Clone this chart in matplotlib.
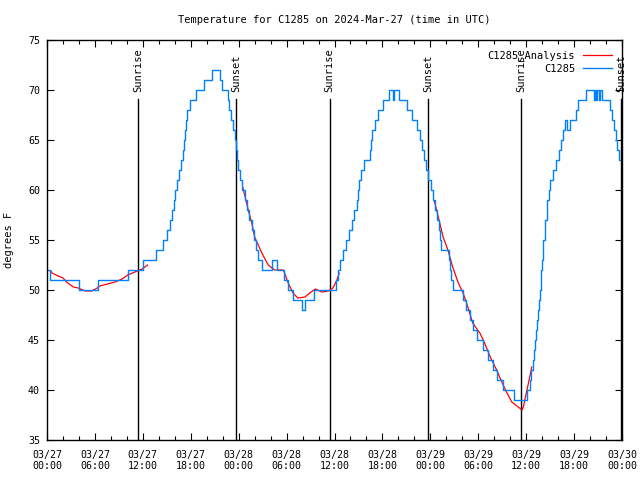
import matplotlib
matplotlib.use("Agg")
import matplotlib.pyplot as plt
from matplotlib.ticker import MultipleLocator

FS = 7.5
TFS = 7.2
plt.rcParams['font.family'] = ['DejaVu Sans Mono']

# hours since 2024-03-27 00:00 UTC
obs_hours = [0.0, 0.4, 4.0, 6.4, 10.1, 12.0, 13.6, 14.5, 15.0, 15.4, 15.7, 15.9, 16.0,
             16.3, 16.5, 16.8, 17.0, 17.1, 17.3, 17.4, 17.5, 17.9, 18.7, 19.7, 20.7,
             21.7, 21.9, 22.7, 22.8, 23.0, 23.3, 23.5, 23.7, 23.8, 23.9, 24.2, 24.4,
             24.8, 25.0, 25.3, 25.7, 25.9, 26.2, 26.4, 26.9, 28.2, 28.8, 29.7, 30.2,
             30.8, 31.9, 32.3, 33.4, 36.2, 36.4, 36.7, 37.1, 37.4, 37.8, 38.2, 38.4,
             38.8, 38.9, 39.1, 39.3, 39.7, 40.4, 40.6, 40.7, 41.1, 41.4, 42.1, 42.8,
             43.3, 43.5, 44.1, 45.1, 45.7, 46.3, 46.7, 47.0, 47.2, 47.5, 47.7, 48.1,
             48.3, 48.6, 48.8, 49.1, 49.2, 49.3, 50.3, 50.5, 50.6, 50.8, 52.1, 52.5,
             53.0, 53.3, 53.8, 54.6, 55.2, 55.8, 56.3, 57.1, 58.5, 60.1, 60.5, 60.6,
             60.9, 61.0, 61.1, 61.2, 61.4, 61.5, 61.6, 61.7, 61.9, 62.0, 62.1, 62.4,
             62.6, 62.9, 63.0, 63.4, 63.7, 64.1, 64.4, 64.6, 64.9, 65.1, 65.5, 66.2,
             66.5, 67.5, 68.5, 68.6, 68.7, 68.9, 69.1, 69.2, 69.5, 70.5, 70.8, 71.0,
             71.3, 71.4, 71.6, 71.8]
obs_temps = [52, 51, 50, 51, 52, 53, 54, 55, 56, 57, 58, 59, 60,
             61, 62, 63, 64, 65, 66, 67, 68, 69, 70, 71, 72,
             71, 70, 69, 68, 67, 66, 65, 64, 63, 62, 61, 60,
             59, 58, 57, 56, 55, 54, 53, 52, 53, 52, 51, 50,
             49, 48, 49, 50, 51, 52, 53, 54, 55, 56, 57, 58,
             59, 60, 61, 62, 63, 64, 65, 66, 67, 68, 69, 70,
             69, 70, 69, 68, 67, 66, 65, 64, 63, 62, 61, 60,
             59, 58, 57, 56, 55, 54, 53, 52, 51, 50, 49, 48,
             47, 46, 45, 44, 43, 42, 41, 40, 39, 40, 41, 42,
             43, 44, 45, 46, 47, 48, 49, 50, 52, 53, 55, 57,
             59, 60, 61, 62, 63, 64, 65, 66, 67, 66, 67, 68,
             69, 70, 69, 70, 69, 70, 69, 70, 69, 68, 67, 66,
             65, 64, 63, 63]

# analysis segments (night-time fits)
ana1_hours = [0.5, 0.6, 1.4, 2.0, 2.6, 3.3, 3.9, 4.8, 5.6, 6.3, 6.6, 7.6, 8.5, 9.4,
              10.1, 11.0, 11.9, 12.6]
ana1_temps = [51.9, 51.7, 51.4, 51.2, 50.7, 50.3, 50.2, 49.9, 49.9, 50.2, 50.4, 50.6,
              50.8, 51.1, 51.5, 51.8, 52.1, 52.5]
ana2_hours = [24.5, 25.2, 25.7, 26.0, 26.9, 27.7, 28.5, 29.6, 30.2, 30.8, 31.4, 32.3,
              32.9, 33.6, 34.4, 35.2, 35.8, 36.3, 36.6]
ana2_temps = [60.3, 58.0, 56.5, 55.3, 53.7, 52.5, 52.0, 52.0, 50.7, 49.7, 49.2, 49.3,
              49.7, 50.1, 49.8, 49.9, 50.2, 51.0, 51.7]
ana3_hours = [48.5, 49.0, 49.6, 50.2, 50.8, 51.5, 52.1, 52.7, 53.3, 54.2, 54.8, 55.5,
              56.3, 57.0, 57.6, 58.2, 59.0, 59.5, 59.7, 60.1, 60.5, 60.7]
ana3_temps = [58.9, 57.3, 55.3, 54.0, 52.3, 50.7, 49.7, 48.3, 46.7, 45.7, 44.7, 43.3,
              42.0, 40.7, 39.7, 38.8, 38.3, 38.0, 38.5, 40.0, 41.5, 42.3]

sun_hours = [11.4, 23.7, 35.4, 47.7, 59.35, 71.85]
sun_labels = ['Sunrise', 'Sunset', 'Sunrise', 'Sunset', 'Sunrise', 'Sunset']

xtick_hours = list(range(0, 73, 6))
xtick_labels = ['03/27\n00:00', '03/27\n06:00', '03/27\n12:00', '03/27\n18:00',
                '03/28\n00:00', '03/28\n06:00', '03/28\n12:00', '03/28\n18:00',
                '03/29\n00:00', '03/29\n06:00', '03/29\n12:00', '03/29\n18:00',
                '03/30\n00:00']

fig = plt.figure(figsize=(6.4, 4.8), dpi=100)
ax = fig.add_axes([47/640, 40/480, 575/640, 400/480])

for h, lab in zip(sun_hours, sun_labels):
	ax.plot([h, h], [35, 69.1], color='black', lw=1.0)
	ax.text(h, 69.8, lab, rotation=90, ha='center', va='bottom', fontsize=FS)

ana_line, = ax.plot(ana1_hours, ana1_temps, color='#ff0000', lw=0.9)
ax.plot(ana2_hours, ana2_temps, color='#ff0000', lw=0.9)
ax.plot(ana3_hours, ana3_temps, color='#ff0000', lw=0.9)
obs_line, = ax.plot(obs_hours, obs_temps, color='#0080ff', lw=1.0, drawstyle='steps-post')

ax.set_xlim(0, 72)
ax.set_ylim(35, 75)
ax.set_xticks(xtick_hours)
ax.set_xticklabels(xtick_labels, fontsize=TFS)
ax.xaxis.set_minor_locator(MultipleLocator(2))
ax.yaxis.set_major_locator(MultipleLocator(5))
ax.tick_params(axis='y', labelsize=TFS, pad=5)
ax.tick_params(axis='x', pad=7)
ax.tick_params(which='both', direction='in', top=True, right=True, width=0.8)
ax.tick_params(which='major', length=5)
ax.tick_params(which='minor', length=3)
for s in ax.spines.values():
	s.set_linewidth(1.0)

ax.set_ylabel('degrees F', fontsize=FS, labelpad=10)
ax.set_title('Temperature for C1285 on 2024-Mar-27 (time in UTC)', fontsize=FS, pad=12)

ax.legend([ana_line, obs_line], ['C1285_Analysis', 'C1285'], loc='upper right',
          frameon=False, markerfirst=False, fontsize=FS, handlelength=2.7,
          borderaxespad=0.6, labelspacing=0.25, handletextpad=0.8)

fig.savefig('out.png', dpi=100)
